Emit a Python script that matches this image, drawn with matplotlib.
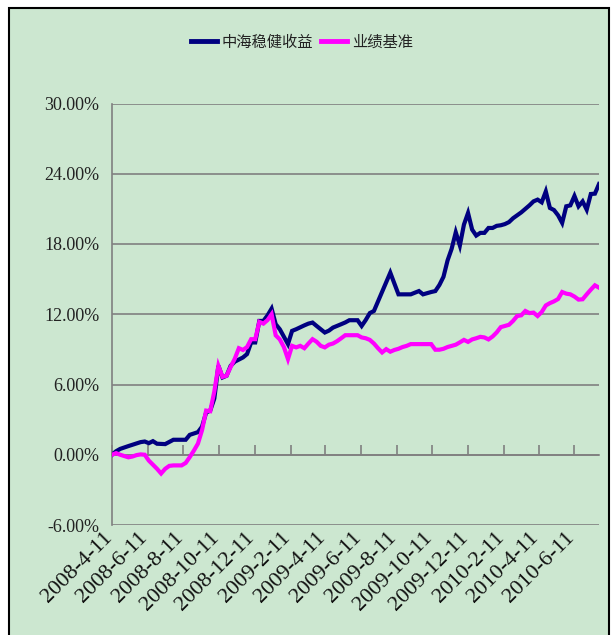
import numpy as np
import pandas as pd
import matplotlib
matplotlib.use("Agg")
import matplotlib.pyplot as plt
import matplotlib.dates as mdates
import matplotlib.transforms as mtransforms
from matplotlib.patches import Rectangle
from matplotlib.ticker import FuncFormatter, FixedLocator

# weekly data starting 2008-04-11 (week index -> value in %)
start = pd.Timestamp("2008-04-11")

fund_weeks = [0, 1, 2, 4, 7, 8, 9, 10, 11, 13, 15, 18, 19, 21, 22, 23, 24, 25, 26, 27,
              28, 29, 30, 32, 33, 34, 35, 36, 37, 38, 39, 40, 41, 43, 44, 45, 47, 48, 49, 50,
              52, 53, 54, 56, 57, 58, 60, 61, 62, 63, 64, 68, 70, 73, 75, 76, 78, 79, 80, 81,
              82, 83, 84, 85, 86, 87, 88, 89, 90, 91, 92, 93, 94, 95, 96, 97, 98, 99, 100, 101,
              102, 103, 104, 105, 106, 107, 108, 109, 110, 111, 112, 113, 114, 115, 116, 117, 118, 119]
fund_vals = [0.0, 0.3, 0.5, 0.74, 1.08, 1.13, 0.99, 1.16, 0.94, 0.91, 1.28, 1.28, 1.70, 1.93, 2.4, 3.6, 3.77, 4.8, 7.6, 6.6,
             6.75, 7.6, 7.95, 8.31, 8.6, 9.59, 9.59, 11.43, 11.43, 11.9, 12.48, 11.15, 10.72, 9.45, 10.58, 10.72, 11.05, 11.2, 11.29, 11.0,
             10.44, 10.6, 10.86, 11.15, 11.3, 11.49, 11.49, 11.0, 11.51, 12.1, 12.28, 15.55, 13.7, 13.7, 13.98, 13.7, 13.9, 13.98, 14.5, 15.2,
             16.6, 17.6, 19.0, 17.87, 19.66, 20.65, 19.23, 18.72, 18.95, 18.95, 19.37, 19.37, 19.55, 19.6, 19.7, 19.87, 20.2, 20.45, 20.7, 21.0,
             21.3, 21.64, 21.79, 21.56, 22.49, 21.08, 20.9, 20.45, 19.8, 21.22, 21.3, 22.1, 21.22, 21.64, 20.93, 22.27, 22.3, 23.12]

bench_weeks = [0, 1, 2, 3, 4, 5, 6, 7, 8, 9, 10, 11, 12, 13, 14, 15, 16, 17, 18, 19,
               20, 21, 22, 23, 24, 25, 26, 27, 28, 29, 30, 31, 32, 33, 34, 35, 36, 37, 38, 39,
               40, 41, 42, 43, 44, 45, 46, 47, 48, 49, 50, 51, 52, 53, 54, 55, 56, 57, 60, 61,
               62, 63, 64, 65, 66, 67, 68, 69, 70, 71, 72, 73, 78, 79, 80, 81, 82, 83, 84, 85,
               86, 87, 88, 89, 90, 91, 92, 93, 94, 95, 96, 97, 98, 99, 100, 101, 102, 103, 104, 105,
               106, 107, 108, 109, 110, 111, 112, 113, 114, 115, 116, 117, 118, 119]
bench_vals = [0.0, 0.14, 0.0, -0.11, -0.22, -0.15, -0.03, 0.03, 0.0, -0.5, -0.85, -1.2, -1.6, -1.2, -0.95, -0.91, -0.91, -0.91, -0.7, -0.2,
              0.35, 0.95, 2.1, 3.77, 3.72, 5.4, 7.6, 6.65, 6.75, 7.5, 8.2, 9.1, 8.95, 9.2, 9.87, 9.87, 11.35, 11.2, 11.5, 12.0,
              10.2, 9.85, 9.2, 8.17, 9.3, 9.17, 9.3, 9.1, 9.5, 9.87, 9.65, 9.3, 9.17, 9.4, 9.5, 9.7, 9.95, 10.21, 10.21, 10.02,
              9.95, 9.81, 9.5, 9.1, 8.74, 9.02, 8.8, 8.95, 9.05, 9.2, 9.3, 9.45, 9.45, 8.97, 8.97, 9.05, 9.2, 9.3, 9.4, 9.6,
              9.81, 9.64, 9.85, 9.95, 10.07, 10.02, 9.85, 10.1, 10.45, 10.9, 11.0, 11.1, 11.43, 11.85, 11.91, 12.28, 12.1, 12.14, 11.85, 12.19,
              12.75, 12.95, 13.1, 13.3, 13.9, 13.76, 13.7, 13.51, 13.25, 13.28, 13.7, 14.1, 14.47, 14.27]

series_names = ["中海稳健收益", "业绩基准"]
series_colors = ["#000080", "#FF00FF"]
tick_dates = ["2008-04-11", "2008-06-11", "2008-08-11", "2008-10-11", "2008-12-11", "2009-02-11", "2009-04-11",
              "2009-06-11", "2009-08-11", "2009-10-11", "2009-12-11", "2010-02-11", "2010-04-11", "2010-06-11"]
y_ticks = [-6, 0, 6, 12, 18, 24, 30]

bg = "#CCE7D0"
W, H = 616, 635

def to_num(weeks):
    return mdates.date2num([start + pd.Timedelta(days=7 * w) for w in weeks])

fig = plt.figure(figsize=(W / 100, H / 100), dpi=100)
fig.patch.set_facecolor("white")
fig.patches.append(Rectangle((9 / W, -0.05), 600 / W, 1.05 - 8 / H, transform=fig.transFigure,
                             facecolor=bg, edgecolor="black", linewidth=1.5, zorder=-10))

ax = fig.add_axes([112 / W, (H - 525) / H, (599 - 112) / W, (525 - 103.5) / H])
ax.set_zorder(2)
ax.set_facecolor("none")

fx = to_num(fund_weeks)
bx = to_num(bench_weeks)
ax.plot(fx, fund_vals, color=series_colors[0], lw=3.0, label=series_names[0], zorder=3, solid_joinstyle="miter")
ax.plot(bx, bench_vals, color=series_colors[1], lw=3.0, label=series_names[1], zorder=4, solid_joinstyle="miter")

ax.set_xlim(to_num([0])[0], to_num([119])[0])
ax.set_ylim(-6, 30)

for s in ["top", "right"]:
    ax.spines[s].set_visible(False)
for s in ["left", "bottom"]:
    ax.spines[s].set_color("#808080")
    ax.spines[s].set_linewidth(1.2)
# category axis crosses at zero
ax.spines["bottom"].set_position(("data", 0))

ax.set_yticks(y_ticks)
ax.yaxis.set_major_formatter(FuncFormatter(lambda v, p: f"{v:.2f}%"))
ax.yaxis.grid(True, color="#808080", lw=1.2)
ax.set_axisbelow(True)
ax.tick_params(axis="y", length=0, pad=9, labelsize=13)
for lab in ax.get_yticklabels():
    lab.set_family("Liberation Serif")
    lab.set_color("#222222")

tnums = mdates.date2num(pd.to_datetime(tick_dates))
ax.xaxis.set_major_locator(FixedLocator(tnums))
ax.tick_params(axis="x", direction="in", length=7, width=1.2, color="#808080", labelbottom=False)

# date labels below the plot area
lab_tr = mtransforms.blended_transform_factory(ax.transData, ax.transAxes) + \
    mtransforms.ScaledTranslation(-2 / 72, -7 / 72, fig.dpi_scale_trans)
for d, xv in zip(pd.to_datetime(tick_dates), tnums):
    ax.text(xv, 0, f"{d.year}-{d.month}-{d.day}", transform=lab_tr, rotation=45,
            ha="right", va="center", rotation_mode="anchor", fontsize=16,
            family="Liberation Serif", color="#111111", clip_on=False)

leg = fig.legend(loc="center", bbox_to_anchor=(302 / W, 1 - 42 / H), ncol=2, frameon=False,
                 prop={"family": ["Noto Sans CJK SC", "DejaVu Sans"], "size": 11},
                 handlelength=1.7, handletextpad=0.3, columnspacing=0.5)
for t in leg.get_texts():
    t.set_color("#222222")
for h in leg.get_lines():
    h.set_linewidth(3.5)

fig.savefig("out.png", dpi=100)
